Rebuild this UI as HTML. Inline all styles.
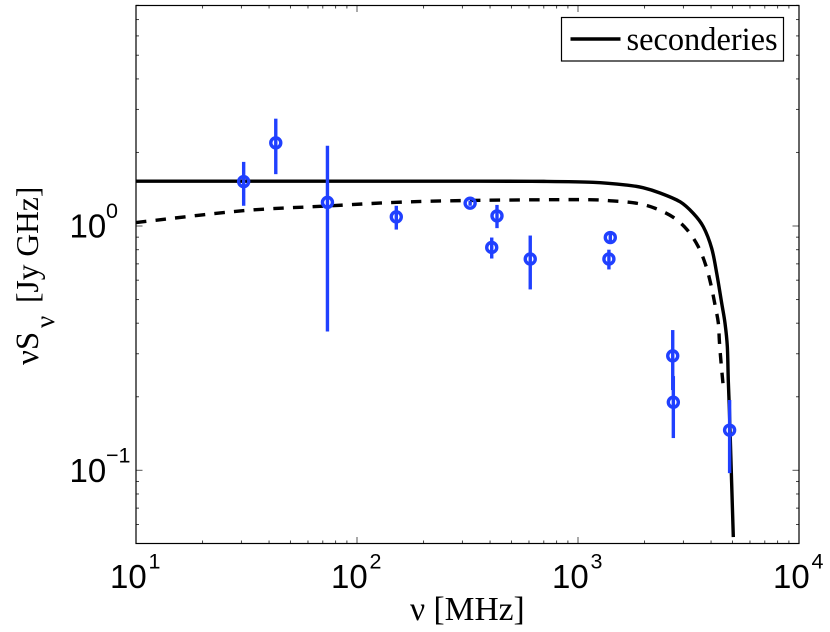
<!DOCTYPE html>
<html>
<head>
<meta charset="utf-8">
<title>Spectrum chart</title>
<style>
html,body{margin:0;padding:0;background:#fff;width:830px;height:632px;overflow:hidden}
svg{display:block}
.tick-label{font-family:"Liberation Sans",sans-serif;fill:#000}
.serif{font-family:"Liberation Serif",serif;fill:#000}
</style>
</head>
<body>
<svg id="chart" xmlns="http://www.w3.org/2000/svg" width="830" height="632" viewBox="0 0 830 632">
  <rect x="136" y="5.5" width="663" height="538" fill="#fff"/>
  <g id="ticks"></g>
  <g id="curves"></g>
  <g id="points"></g>
  <rect x="136" y="5.5" width="663" height="538" fill="none" stroke="#000" stroke-width="1.2"/>
  <g id="tick-labels"></g>
  <g>
    <rect x="561.5" y="17.5" width="222" height="43.5" fill="#fff" stroke="#000" stroke-width="1.2"/>
    <line x1="570.5" y1="39" x2="620.5" y2="39" stroke="#000" stroke-width="3.4"/>
    <text class="serif" x="626.5" y="50" font-size="32.4">seconderies</text>
  </g>
  <text class="serif" x="410" y="620" font-size="33.5">ν [MHz]</text>
  <g>
    <text class="serif" transform="translate(38,365) rotate(-90)" font-size="33">νS</text>
    <text class="serif" transform="translate(54,328) rotate(-90)" font-size="27">ν</text>
    <text class="serif" transform="translate(38,303) rotate(-90)" font-size="31.5">[Jy GHz]</text>
  </g>
</svg>
<script>
var xDecades = [10, 100, 1000, 10000];
var yDecades = [0.1, 1];
var yMinorValues = [0.06, 0.07, 0.08, 0.09, 0.2, 0.3, 0.4, 0.5, 0.6, 0.7, 0.8, 0.9, 2, 3, 4, 5, 6, 7, 8];
var xMinorMultipliers = [2, 3, 4, 5, 6, 7, 8, 9];
var xTickExponents = ["1", "2", "3", "4"];
var yTickExponents = ["\u22121", "0"];

var solidFreq = [10, 100, 360, 700, 1169, 1661, 1968, 2350, 2894, 3323, 3690, 4027, 4243, 4469, 4626, 4739, 4786, 4833, 4874, 5044];
var solidFlux = [1.525, 1.525, 1.525, 1.523, 1.51, 1.471, 1.435, 1.365, 1.257, 1.127, 0.993, 0.81, 0.64, 0.483, 0.4, 0.321, 0.234, 0.185, 0.146, 0.0533];

var dashedFreq = [10, 30.5, 72.9, 151.3, 324.6, 1021, 1440, 1843, 2231, 2699, 3124, 3502, 3783, 3998, 4169, 4314, 4365, 4436, 4545];
var dashedFlux = [1.033, 1.155, 1.207, 1.25, 1.272, 1.282, 1.266, 1.239, 1.182, 1.085, 0.963, 0.823, 0.692, 0.573, 0.475, 0.401, 0.335, 0.278, 0.219];

var pointFreq = [30.7, 42.9, 73.5, 150.6, 325, 430, 407, 608, 1400, 1380, 2683, 2700, 4853];
var pointFlux = [1.52, 2.19, 1.25, 1.09, 1.24, 1.10, 0.817, 0.733, 0.897, 0.733, 0.294, 0.19, 0.146];
var pointHigh = [1.83, 2.75, 2.13, 1.21, 1.27, 1.22, 0.897, 0.914, 0.95, 0.80, 0.375, 0.243, 0.194];
var pointLow = [1.21, 1.63, 0.37, 0.967, 1.21, 0.98, 0.736, 0.55, 0.85, 0.664, 0.213, 0.1355, 0.0974];

var NS = 'http://www.w3.org/2000/svg';
var LEFT = 136, RIGHT = 799, TOP = 5.5, BOTTOM = 543.5;

function xScale(f) {
  return LEFT + (Math.log10(f) - 1) * (RIGHT - LEFT) / 3;
}
function yScale(v) {
  return 226 - Math.log10(v) * 244.3;
}
function make(tag, parent, attrs) {
  var el = document.createElementNS(NS, tag);
  for (var k in attrs) { el.setAttribute(k, attrs[k]); }
  parent.appendChild(el);
  return el;
}
function pathFrom(xs, ys) {
  var p = xs.map(function (f, i) { return [xScale(f), yScale(ys[i])]; });
  var d = 'M' + p[0][0].toFixed(2) + ' ' + p[0][1].toFixed(2);
  for (var i = 0; i < p.length - 1; i++) {
    var a = p[Math.max(i - 1, 0)], b = p[i], c = p[i + 1], e = p[Math.min(i + 2, p.length - 1)];
    var c1x = b[0] + (c[0] - a[0]) / 6, c1y = b[1] + (c[1] - a[1]) / 6;
    var c2x = c[0] - (e[0] - b[0]) / 6, c2y = c[1] - (e[1] - b[1]) / 6;
    d += 'C' + c1x.toFixed(2) + ' ' + c1y.toFixed(2) + ' ' + c2x.toFixed(2) + ' ' + c2y.toFixed(2) + ' ' + c[0].toFixed(2) + ' ' + c[1].toFixed(2);
  }
  return d;
}

var tickGroup = document.getElementById('ticks');
function tick(x1, y1, x2, y2, name, major) {
  var t = make('line', tickGroup, {x1: x1, y1: y1, x2: x2, y2: y2, stroke: major ? '#555' : '#444', 'stroke-width': 1});
  
  
}
function xTick(x, len, major) {
  tick(x, BOTTOM, x, BOTTOM - len, 'x-tick-bottom', major);
  tick(x, TOP, x, TOP + len, 'x-tick-top', major);
}
function yTick(y, len, major) {
  tick(LEFT, y, LEFT + len, y, 'y-tick-left', major);
  tick(RIGHT, y, RIGHT - len, y, 'y-tick-right', major);
}
xDecades.forEach(function (d, i) {
  xTick(xScale(d), 6.5, true);
  if (i < xDecades.length - 1) {
    xMinorMultipliers.forEach(function (m) {
      xTick(xScale(d * m), 3, false);
    });
  }
});
yDecades.forEach(function (v) {
  yTick(yScale(v), 6.5, true);
});
yMinorValues.forEach(function (v) {
  yTick(yScale(v), 3, false);
});

var labelGroup = document.getElementById('tick-labels');
function decadeLabel(x, y, supX, supY, exp, name) {
  var base = make('text', labelGroup, {x: x, y: y, 'font-size': 33, 'class': 'tick-label'});
  base.textContent = '10';
  
  
  var sup = make('text', labelGroup, {x: supX, y: supY, 'font-size': 21.5, 'class': 'tick-label'});
  sup.textContent = exp;
  
  
}
xDecades.forEach(function (d, i) {
  var cx = xScale(d);
  decadeLabel(cx - 26, 588, cx + 12.5, 568.5, xTickExponents[i], 'x-tick-label');
});
yDecades.forEach(function (v, i) {
  var cy = yScale(v);
  decadeLabel(69.5, cy + 11.5, 106, cy - 8, yTickExponents[i], 'y-tick-label');
});

var curveGroup = document.getElementById('curves');
var dashed = make('path', curveGroup, {d: pathFrom(dashedFreq, dashedFlux), fill: 'none', stroke: '#000', 'stroke-width': 3.4, 'stroke-dasharray': '10.5 9.2'});


var solid = make('path', curveGroup, {d: pathFrom(solidFreq, solidFlux), fill: 'none', stroke: '#000', 'stroke-width': 3.4, 'stroke-linejoin': 'round'});



var pointGroup = document.getElementById('points');
var BLUE = '#2040ff';
pointFreq.forEach(function (f, i) {
  var x = xScale(f);
  var bar = make('line', pointGroup, {x1: x, x2: x, y1: yScale(pointHigh[i]), y2: yScale(pointLow[i]), stroke: BLUE, 'stroke-width': 3.4});
  
  
  var dot = make('circle', pointGroup, {cx: x, cy: yScale(pointFlux[i]), r: 5, fill: 'none', stroke: BLUE, 'stroke-width': 3.4});
  
  
});
</script>
</body>
</html>
